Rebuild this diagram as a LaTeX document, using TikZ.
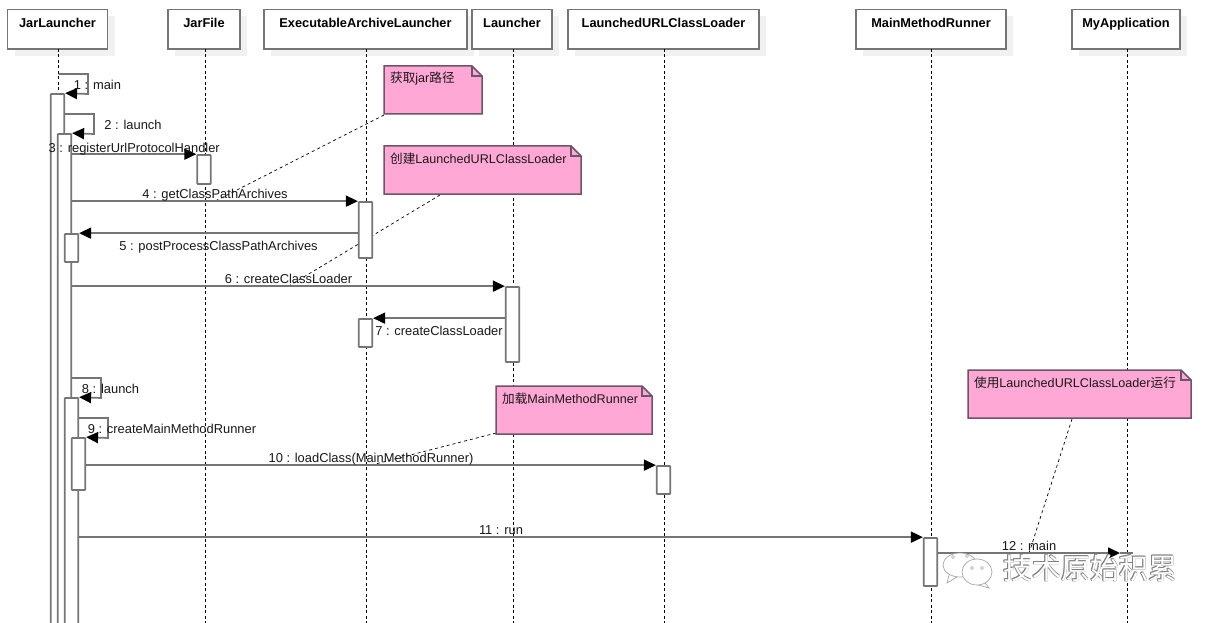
\documentclass[tikz,border=0pt]{standalone}
\usepackage{fontspec}
\setmainfont{Liberation Sans}
\newfontfamily\cjkfont{Noto Sans CJK SC}
\usetikzlibrary{arrows.meta,backgrounds}
\definecolor{linegray}{HTML}{757575}
\definecolor{notepink}{HTML}{FFA8D6}
\definecolor{noteedge}{HTML}{6E5468}
\definecolor{shadowgray}{HTML}{F1F1F1}
\tikzset{
	x=1pt, y=-1pt,
	head/.style={draw=linegray, line width=1.8pt, fill=white, minimum height=39.5pt, inner sep=0pt, text depth=13pt, font=\fontsize{12.8}{15}\selectfont\bfseries},
	headshadow/.style={fill=shadowgray, draw=none},
	life/.style={black, line width=0.8pt, dash pattern=on 3pt off 2.5pt},
	bar/.style={draw=linegray, line width=1.7pt, fill=white, minimum width=13.5pt, inner sep=0pt, rounded corners=0.5pt},
	msg/.style={draw=linegray, line width=1.7pt, -{Triangle[length=12pt,width=11pt,fill=black,color=black]}},
	lab/.style={font=\fontsize{12.9}{15}\selectfont, inner sep=0pt, text=black!90, text height=10pt, text depth=3pt},
	notelab/.style={font=\fontsize{12.6}{15}\selectfont, inner sep=0pt, text=black!90},
	note/.style={draw=noteedge, line width=1.5pt, fill=notepink},
	link/.style={black, line width=0.7pt, dash pattern=on 3pt off 3pt},
	bubble/.style={draw=black!35, fill=white, line width=0.7pt},
}
\newcommand{\notebox}[6]{% name, left, top, right, bottom, text
	\draw[note] (#2,#3) -- (#4-10,#3) -- (#4,#3+10) -- (#4,#5) -- (#2,#5) -- cycle;
	\draw[note, fill=none] (#4-10,#3) -- (#4-10,#3+10) -- (#4,#3+10);
	\node[notelab, anchor=west] (#1) at (#2+6,#3+12.5) {#6};
}
\begin{document}
\begin{tikzpicture}
	\useasboundingbox (0,0) rectangle (1218,623);
	\begin{pgfonlayer}{background}
		\fill[white] (0,0) rectangle (1218,623);
	\end{pgfonlayer}

	%%%%% heads %%%%%
	\foreach \l/\r in {7.5/107.5, 168/240, 264/467, 472/552, 568/759, 856/1006, 1072/1180}{
		\fill[headshadow] (\l+7,16) rectangle (\r+7,56);
	}
	\node[head, minimum width=100pt] (jar) at (57.5,29.25) {JarLauncher};
	\node[head, minimum width=72pt] (file) at (204,29.25) {JarFile};
	\node[head, minimum width=203pt] (exec) at (365.5,29.25) {ExecutableArchiveLauncher};
	\node[head, minimum width=80pt] (launcher) at (512,29.25) {Launcher};
	\node[head, minimum width=191pt] (loader) at (663.5,29.25) {LaunchedURLClassLoader};
	\node[head, minimum width=150pt] (runner) at (931,29.25) {MainMethodRunner};
	\node[head, minimum width=108pt] (app) at (1126,29.25) {MyApplication};

	%%%%% lifelines %%%%%
	\draw[life] (58.5,49) -- (58.5,623);
	\draw[life] (205.5,49) -- (205.5,623);
	\draw[life] (366.5,49) -- (366.5,623);
	\draw[life] (513,49) -- (513,623);
	\draw[life] (664.5,49) -- (664.5,623);
	\draw[life] (931.5,49) -- (931.5,623);
	\draw[life] (1127.5,49) -- (1127.5,623);

	%%%%% activation bars %%%%%
	\node[bar, minimum height=539pt] (b1) at (57.5,363.5) {};
	\node[bar, minimum height=499pt] (b2) at (64.5,383.5) {};
	\node[bar, minimum height=28pt] (b5) at (71.5,248) {};
	\node[bar, minimum height=235pt] (b8) at (71.5,515.5) {};
	\node[bar, minimum height=52pt] (b9) at (78.5,464) {};
	\node[bar, minimum height=29pt] (b3) at (204,169.5) {};
	\node[bar, minimum height=56pt] (b4) at (365.5,230) {};
	\node[bar, minimum height=28pt] (b7) at (365.5,333) {};
	\node[bar, minimum height=75pt] (b6) at (512.5,324.5) {};
	\node[bar, minimum height=28pt] (b10) at (663.5,480) {};
	\node[bar, minimum height=48pt] (b11) at (930.5,562) {};
	\coordinate (b12) at (1120,553);
	\coordinate (b12end) at (1133,553);

	%%%%% messages %%%%%
	\coordinate (s1) at (58.5,74);
	\draw[msg] (s1) -- (88,74) -- (88,94) -- (b1.north east);
	\node[lab] (l1) at (97.5,86) {1 : main};
	\draw[msg] (b1.east |- 0,114) -- (94,114) -- (94,134) -- (b2.north east);
	\node[lab] (l2) at (133,126) {2 : launch};

	\draw[msg] (b2.east |- b3.north) -- node[lab, midway, above=-2.5pt] (l3) {3 : registerUrlProtocolHandler} (b3.north west);
	\draw[msg] (b2.east |- b4.north) -- node[lab, midway, above=-1.5pt] (l4) {4 : getClassPathArchives} coordinate[midway] (m4) (b4.north west);
	\draw[msg] (b4.west |- b5.north) -- node[lab, midway, below=6.5pt] (l5) {5 : postProcessClassPathArchives} (b5.north east);
	\draw[msg] (b2.east |- b6.north) -- node[lab, midway, above=-1.5pt] (l6) {6 : createClassLoader} coordinate[midway] (m6) (b6.north west);
	\draw[msg] (b6.west |- b7.north) -- node[lab, midway, below=6.5pt] (l7) {7 : createClassLoader} (b7.north east);

	\draw[msg] (b2.east |- 0,378) -- (101,378) -- (101,398) -- (b8.north east);
	\node[lab] (l8) at (110.5,390) {8 : launch};
	\draw[msg] (b8.east |- 0,418) -- (108,418) -- (108,438) -- (b9.north east);
	\node[lab] (l9) at (172,430) {9 : createMainMethodRunner};

	\draw[msg] (b9.east |- b10.north) -- node[lab, midway, above=-1.5pt] (l10) {10 : loadClass(MainMethodRunner)} coordinate[midway] (m10) (b10.north west);
	\draw[msg] (b8.east |- b11.north) -- node[lab, midway, above=-1.5pt] (l11) {11 : run} (b11.north west);
	\draw[linegray, line width=1.7pt] (b12) -- (b12end);
	\draw[msg] (b11.east |- b12) -- node[lab, midway, above=-1.5pt] (l12) {12 : main} coordinate[midway] (m12) (b12);

	%%%%% notes %%%%%
	\notebox{n1}{384}{66}{482}{114}{{\cjkfont 获取}jar{\cjkfont 路径}}
	\notebox{n2}{384}{146}{581}{194}{{\cjkfont 创建}LaunchedURLClassLoader}
	\notebox{n3}{496}{386}{652}{434}{{\cjkfont 加载}MainMethodRunner}
	\notebox{n4}{968}{370}{1191}{418}{{\cjkfont 使用}LaunchedURLClassLoader{\cjkfont 运行}}
	\coordinate (c1) at (384,115);
	\coordinate (c2) at (440,195);
	\coordinate (c3) at (496,433);
	\coordinate (c4) at (1072,419);
	\begin{pgfonlayer}{background}
		\draw[link] (c1) -- (m4);
		\draw[link] (c2) -- (m6);
		\draw[link] (c3) -- (m10);
		\draw[link] (c4) -- (m12);
	\end{pgfonlayer}

	%%%%% watermark %%%%%
	\draw[bubble] (949,575) -- (947,583) -- (957,577);
	\filldraw[bubble] (960,565) ellipse (17 and 12);
	\draw[bubble] (985,583) -- (989,588) -- (978,585);
	\filldraw[bubble] (977,572) ellipse (15 and 13);
	\foreach \x/\y in {953/557, 967/556, 972/568, 982/568}{
		\draw[black!35, line width=0.6pt] (\x,\y) circle (1.5);
	}
	\foreach \dx/\dy in {-0.7/-0.7, 0.7/-0.7, -0.7/0.7, 0.9/0.9}{
		\node[font=\cjkfont\fontsize{29}{29}\selectfont, text=black!50, inner sep=0pt] at (1090+\dx,568+\dy) {技术原始积累};
	}
	\node[font=\cjkfont\fontsize{29}{29}\selectfont, text=white, inner sep=0pt] (w1) at (1090,568) {技术原始积累};
\end{tikzpicture}
\end{document}
